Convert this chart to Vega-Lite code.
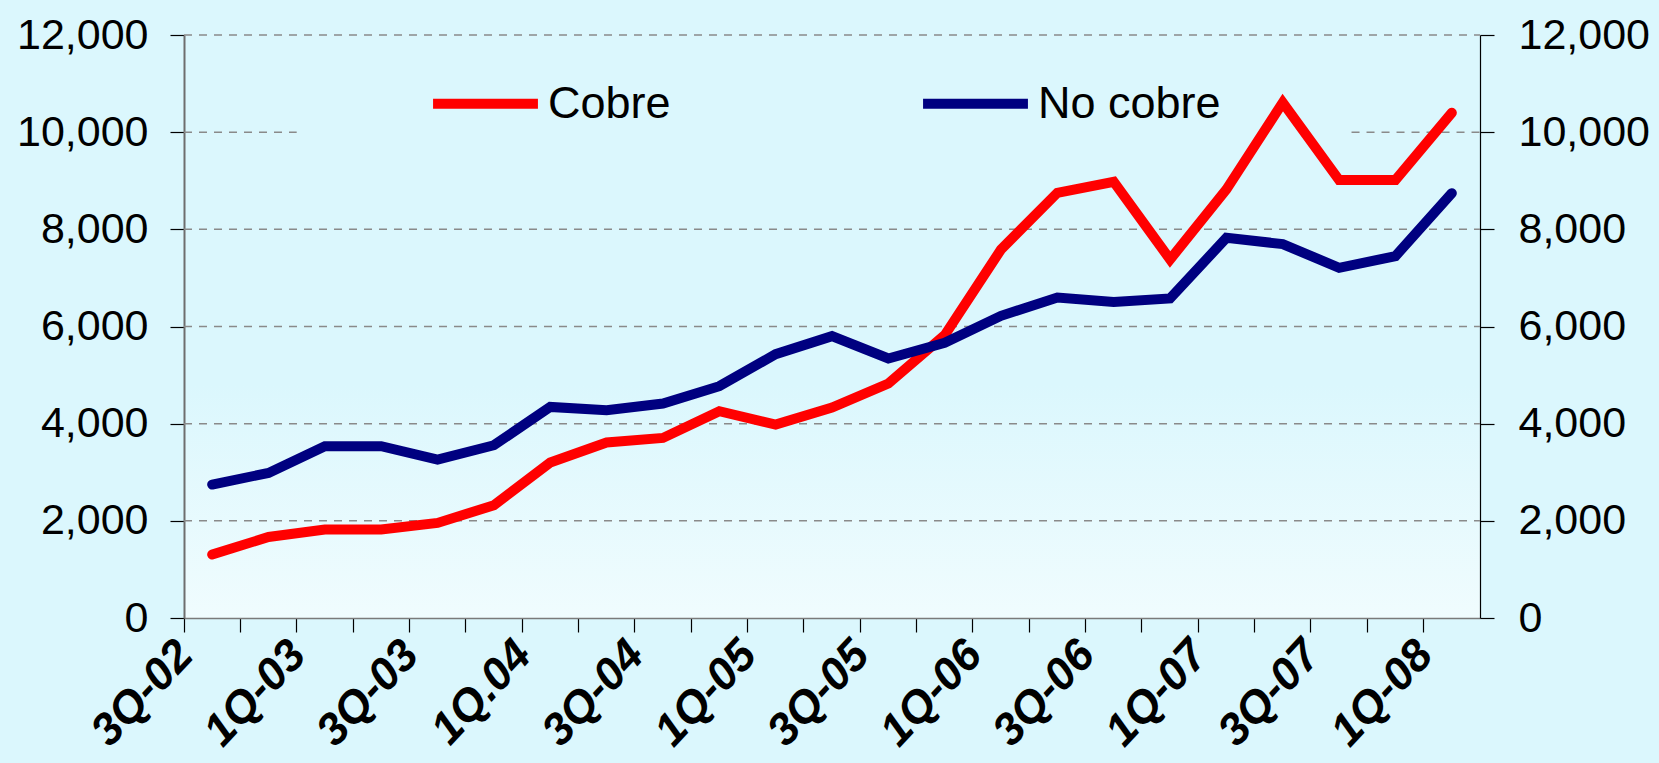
{
  "$schema": "https://vega.github.io/schema/vega-lite/v6.json",
  "autosize": "none",
  "width": 1296,
  "height": 583,
  "padding": {"left": 184, "top": 35, "right": 179, "bottom": 145},
  "background": "#DBF7FD",
  "config": {
    "font": "Liberation Sans",
    "view": {
      "stroke": null,
      "fill": {"gradient": "linear", "x1": 0, "y1": 0, "x2": 0, "y2": 1,
        "stops": [{"offset": 0, "color": "#DBF7FD"}, {"offset": 0.6, "color": "#DBF7FD"}, {"offset": 1, "color": "#F0FCFE"}]}
    }
  },
  "resolve": {"scale": {"x": "independent"}, "axis": {"y": "independent", "x": "independent"}},
  "layer": [
    {
      "data": {"values": [
        {"v": 2000, "a": 0, "b": 23},
        {"v": 4000, "a": 0, "b": 23},
        {"v": 6000, "a": 0, "b": 23},
        {"v": 8000, "a": 0, "b": 23},
        {"v": 10000, "a": 0, "b": 2},
        {"v": 10000, "a": 20.72, "b": 23},
        {"v": 12000, "a": 0, "b": 23}
      ]},
      "mark": {"type": "rule", "color": "#8a8a8a", "strokeWidth": 1.5, "strokeDash": [8, 7]},
      "encoding": {
        "x": {"field": "a", "type": "quantitative", "scale": {"domain": [0, 23], "nice": false, "zero": false}, "axis": null},
        "x2": {"field": "b"},
        "y": {"field": "v", "type": "quantitative", "scale": {"domain": [0, 12000], "nice": false},
          "axis": {"orient": "right", "values": [0, 2000, 4000, 6000, 8000, 10000, 12000], "format": ",d", "grid": false,
            "title": null, "labelFontSize": 43, "labelColor": "#000000", "labelPadding": 24, "tickSize": 14,
            "tickColor": "#000000", "tickWidth": 1.2, "domainColor": "#000000", "domainWidth": 1.2}}
      }
    },
    {
      "data": {"values": [
        {"q": "3Q-02", "s": "Cobre", "v": 1305}, {"q": "4Q-02", "s": "Cobre", "v": 1668},
        {"q": "1Q-03", "s": "Cobre", "v": 1820}, {"q": "2Q-03", "s": "Cobre", "v": 1820},
        {"q": "3Q-03", "s": "Cobre", "v": 1957}, {"q": "4Q-03", "s": "Cobre", "v": 2321},
        {"q": "1Q.04", "s": "Cobre", "v": 3200}, {"q": "2Q-04", "s": "Cobre", "v": 3612},
        {"q": "3Q-04", "s": "Cobre", "v": 3707}, {"q": "4Q-04", "s": "Cobre", "v": 4256},
        {"q": "1Q-05", "s": "Cobre", "v": 3982}, {"q": "2Q-05", "s": "Cobre", "v": 4333},
        {"q": "3Q-05", "s": "Cobre", "v": 4827}, {"q": "4Q-05", "s": "Cobre", "v": 5822},
        {"q": "1Q-06", "s": "Cobre", "v": 7586}, {"q": "2Q-06", "s": "Cobre", "v": 8752},
        {"q": "3Q-06", "s": "Cobre", "v": 8979}, {"q": "4Q-06", "s": "Cobre", "v": 7380},
        {"q": "1Q-07", "s": "Cobre", "v": 8822}, {"q": "2Q-07", "s": "Cobre", "v": 10610},
        {"q": "3Q-07", "s": "Cobre", "v": 9014}, {"q": "4Q-07", "s": "Cobre", "v": 9014},
        {"q": "1Q-08", "s": "Cobre", "v": 10400},
        {"q": "3Q-02", "s": "No cobre", "v": 2747}, {"q": "4Q-02", "s": "No cobre", "v": 2986},
        {"q": "1Q-03", "s": "No cobre", "v": 3536}, {"q": "2Q-03", "s": "No cobre", "v": 3536},
        {"q": "3Q-03", "s": "No cobre", "v": 3262}, {"q": "4Q-03", "s": "No cobre", "v": 3556},
        {"q": "1Q.04", "s": "No cobre", "v": 4345}, {"q": "2Q-04", "s": "No cobre", "v": 4277},
        {"q": "3Q-04", "s": "No cobre", "v": 4415}, {"q": "4Q-04", "s": "No cobre", "v": 4771},
        {"q": "1Q-05", "s": "No cobre", "v": 5430}, {"q": "2Q-05", "s": "No cobre", "v": 5801},
        {"q": "3Q-05", "s": "No cobre", "v": 5342}, {"q": "4Q-05", "s": "No cobre", "v": 5663},
        {"q": "1Q-06", "s": "No cobre", "v": 6219}, {"q": "2Q-06", "s": "No cobre", "v": 6598},
        {"q": "3Q-06", "s": "No cobre", "v": 6507}, {"q": "4Q-06", "s": "No cobre", "v": 6577},
        {"q": "1Q-07", "s": "No cobre", "v": 7825}, {"q": "2Q-07", "s": "No cobre", "v": 7696},
        {"q": "3Q-07", "s": "No cobre", "v": 7208}, {"q": "4Q-07", "s": "No cobre", "v": 7449},
        {"q": "1Q-08", "s": "No cobre", "v": 8745}
      ]},
      "mark": {"type": "line", "strokeWidth": 10, "strokeCap": "round", "strokeJoin": "miter"},
      "encoding": {
        "x": {"field": "q", "type": "ordinal", "sort": null, "bandPosition": 0.5,
          "scale": {"type": "band", "paddingInner": 0, "paddingOuter": 0},
          "axis": {"title": null, "bandPosition": 0, "labelAngle": -47, "labelAlign": "right", "labelBaseline": "middle",
            "labelExpr": "test(/^[13]Q/, datum.value) ? datum.value : ''",
            "labelOverlap": false, "labelBound": false, "labelFlush": false, "labelOffset": -27,
            "labelFontSize": 45, "labelFontWeight": "bold", "labelFontStyle": "italic", "labelColor": "#000000",
            "labelPadding": 15, "tickSize": 14, "tickColor": "#000000", "tickWidth": 1.2,
            "domainColor": "#7a7a7a", "domainWidth": 1.5, "grid": false}},
        "y": {"field": "v", "type": "quantitative", "scale": {"domain": [0, 12000], "nice": false},
          "axis": {"orient": "left", "values": [0, 2000, 4000, 6000, 8000, 10000, 12000], "format": ",d", "grid": false,
            "title": null, "labelFontSize": 43, "labelColor": "#000000", "labelPadding": 22, "tickSize": 14,
            "tickColor": "#000000", "tickWidth": 1.2, "domainColor": "#6e6e6e", "domainWidth": 2}},
        "color": {"field": "s", "type": "nominal",
          "scale": {"domain": ["Cobre", "No cobre"], "range": ["#FF0000", "#000080"]},
          "legend": {"title": null, "orient": "none", "legendX": 244, "legendY": 11, "direction": "horizontal",
            "padding": 0, "symbolType": "stroke", "symbolSize": 11000, "symbolStrokeWidth": 10,
            "labelFontSize": 45, "labelColor": "#000000", "labelLimit": 400, "labelOffset": 5,
            "columnPadding": 232}}
      }
    }
  ]
}
